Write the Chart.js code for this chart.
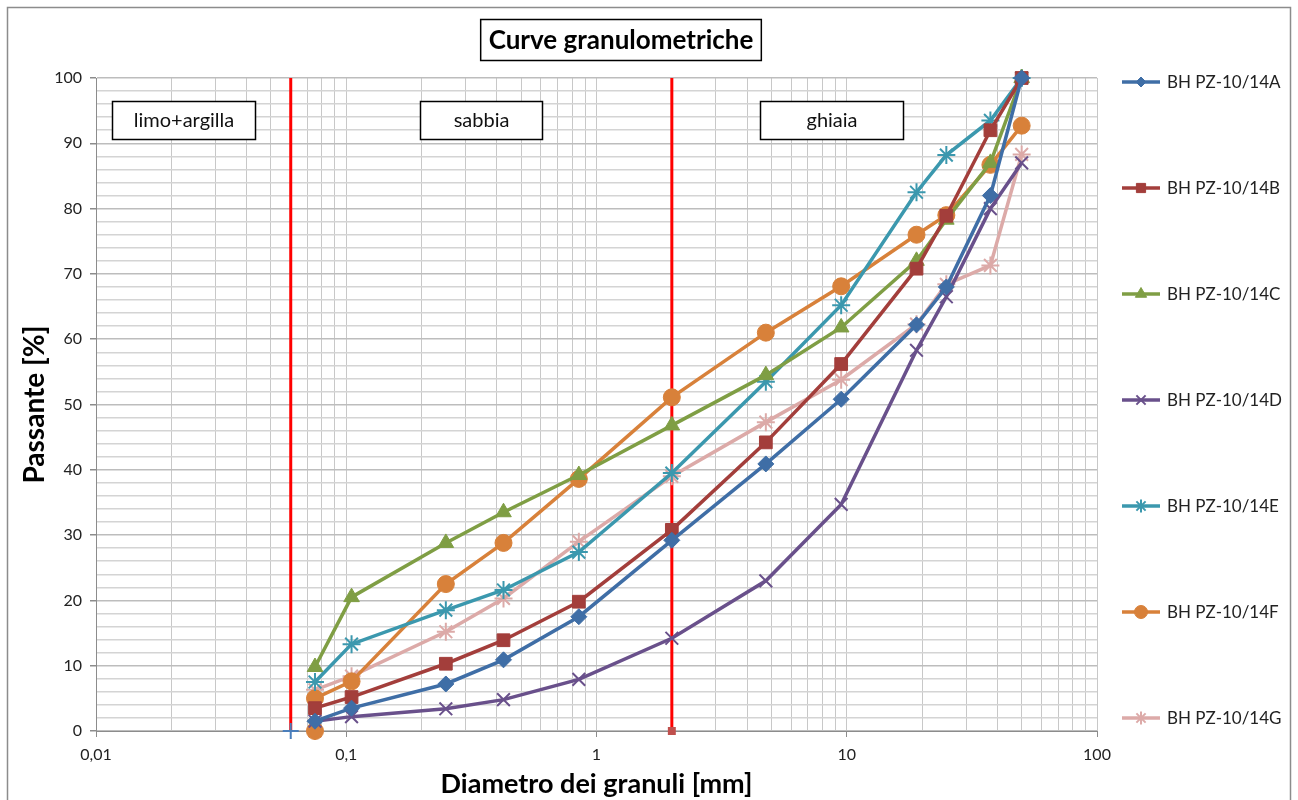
<!DOCTYPE html>
<html>
<head>
<meta charset="utf-8">
<script src="https://cdn.jsdelivr.net/npm/chart.js@4/dist/chart.umd.min.js"></script>
<style>
  html, body { margin: 0; padding: 0; background: #fff; }
  #wrap { width: 1298px; height: 800px; position: relative; }
</style>
</head>
<body>
<div id="wrap"><canvas id="grafico" width="1298" height="800"></canvas></div>
<script>
// aperture setacci [mm]
const setacci = [0.075, 0.105, 0.25, 0.425, 0.85, 2, 4.75, 9.5, 19, 25, 37.5, 50];

// passante [%] per ogni campione
const pz14A = [1.5, 3.5, 7.2, 10.9, 17.5, 29.2, 40.9, 50.8, 62.2, 68.0, 82.0, 100];
const pz14B = [3.5, 5.2, 10.3, 13.9, 19.8, 30.8, 44.2, 56.2, 70.8, 78.9, 92.0, 100];
const pz14C = [9.8, 20.5, 28.8, 33.5, 39.2, 46.8, 54.5, 61.8, 72.0, 78.3, 87.0, 100];
const pz14D = [1.5, 2.2, 3.4, 4.8, 7.9, 14.2, 23.0, 34.7, 58.3, 66.5, 80.0, 87.0];
const pz14E = [7.5, 13.3, 18.5, 21.6, 27.4, 39.5, 53.5, 65.2, 82.5, 88.2, 93.5, 100];
const pz14F = [5.0, 7.6, 22.5, 28.8, 38.6, 51.1, 61.0, 68.1, 76.0, 79.0, 86.7, 92.7];
const pz14G = [6.3, 8.4, 15.2, 20.3, 29.0, 39.0, 47.3, 53.8, 62.3, 68.4, 71.3, 88.3];

const nomi = ["BH PZ-10/14A", "BH PZ-10/14B", "BH PZ-10/14C", "BH PZ-10/14D",
              "BH PZ-10/14E", "BH PZ-10/14F", "BH PZ-10/14G"];

// limiti delle classi granulometriche [mm]
const limiteLimo = 0.06;
const limiteSabbia = 2;

// etichette delle classi [testo, d min, d max]
const classi = [
  ["limo+argilla", 0.0116, 0.0432],
  ["sabbia", 0.197, 0.606],
  ["ghiaia", 4.5, 16.8]
];

const FONT = 'Lato, "Open Sans", "Liberation Sans", sans-serif';

function punti(valori, fondo) {
  const p = setacci.map((d, i) => ({ x: d, y: valori[i] }));
  if (fondo) p.unshift({ x: setacci[0], y: 0 });
  return p;
}

function serie(label, valori, colore, stile, raggio, fondo) {
  return {
    label: label,
    data: punti(valori, fondo),
    borderColor: colore,
    backgroundColor: colore,
    pointBackgroundColor: colore,
    pointBorderColor: colore,
    pointBorderWidth: (stile === "star" || stile === "crossRot") ? 2 : 1,
    borderWidth: 3.5,
    pointStyle: stile,
    pointRadius: raggio,
    showLine: true,
    tension: 0,
    clip: false,
    inLegenda: true
  };
}

const datasets = [
  serie(nomi[0], pz14A, "#3f6ea6", "rectRot", 8),
  serie(nomi[1], pz14B, "#a33e3b", "rect", 9),
  serie(nomi[2], pz14C, "#7f9e44", "triangle", 9),
  serie(nomi[3], pz14D, "#69508b", "crossRot", 9),
  serie(nomi[4], pz14E, "#3b98ae", "star", 9),
  serie(nomi[5], pz14F, "#d8813a", "circle", 8.5, true),
  serie(nomi[6], pz14G, "#dcaaa8", "star", 9, true),
  {
    label: "limite limo",
    data: [{ x: limiteLimo, y: 0 }, { x: limiteLimo, y: 100 }],
    borderColor: "#ff0000",
    borderWidth: 3,
    showLine: true,
    clip: false,
    pointStyle: "cross",
    pointRadius: [8, 0],
    pointBorderColor: "#4a7ebb",
    pointBorderWidth: 2
  },
  {
    label: "limite sabbia",
    data: [{ x: limiteSabbia, y: 0 }, { x: limiteSabbia, y: 100 }],
    borderColor: "#ff0000",
    backgroundColor: "#c0504d",
    borderWidth: 3,
    showLine: true,
    clip: false,
    pointStyle: "rect",
    pointRadius: [3.5, 0],
    pointBorderColor: "#c0504d"
  }
];

// cornice, titolo, riquadri delle classi e legenda
const decorazioni = {
  id: "decorazioni",
  beforeDraw(chart) {
    const c = chart.ctx;
    c.save();
    c.fillStyle = "#fff";
    c.fillRect(0, 0, chart.width, chart.height);
    c.strokeStyle = "#8c8c8c";
    c.lineWidth = 1.5;
    c.strokeRect(7.5, 7.5, 1283, 800);
    c.restore();
  },
  beforeDatasetsDraw(chart) {
    const c = chart.ctx;
    const sx = chart.scales.x;
    c.save();
    c.font = "20px " + FONT;
    c.textAlign = "center";
    c.textBaseline = "middle";
    classi.forEach(([testo, d0, d1]) => {
      const x0 = Math.round(sx.getPixelForValue(d0)) + 0.5;
      const x1 = Math.round(sx.getPixelForValue(d1)) + 0.5;
      const y0 = 101.5, h = 38;
      c.fillStyle = "#fff";
      c.fillRect(x0, y0, x1 - x0, h);
      c.strokeStyle = "#000";
      c.lineWidth = 1.5;
      c.strokeRect(x0, y0, x1 - x0, h);
      c.fillStyle = "#111";
      c.fillText(testo, (x0 + x1) / 2, y0 + h / 2);
    });
    c.restore();
  },
  afterDraw(chart) {
    const c = chart.ctx;
    c.save();
    // titolo
    c.font = "bold 26px " + FONT;
    c.textAlign = "center";
    c.textBaseline = "middle";
    const t = "Curve granulometriche";
    const w = c.measureText(t).width + 16;
    c.fillStyle = "#fff";
    c.fillRect(621 - w / 2, 19.5, w, 41);
    c.strokeStyle = "#000";
    c.lineWidth = 1.5;
    c.strokeRect(621 - w / 2, 19.5, w, 41);
    c.fillStyle = "#000";
    c.fillText(t, 621, 41);

    // legenda
    c.font = "17px " + FONT;
    c.textAlign = "left";
    chart.data.datasets.filter(d => d.inLegenda).forEach((d, i) => {
      const y = 82 + i * 106;
      c.strokeStyle = d.borderColor;
      c.lineWidth = 3.5;
      c.beginPath();
      c.moveTo(1122, y);
      c.lineTo(1160, y);
      c.stroke();
      c.fillStyle = d.backgroundColor;
      c.strokeStyle = d.borderColor;
      c.lineWidth = d.pointBorderWidth;
      Chart.helpers.drawPoint(c, {
        pointStyle: d.pointStyle,
        radius: d.pointStyle === "rectRot" ? 5 : 6.5,
        rotation: 0,
        borderWidth: d.pointBorderWidth
      }, 1141, y);
      c.fillStyle = "#222";
      c.fillText(d.label, 1167, y + 1);
    });
    c.restore();
  }
};

new Chart(document.getElementById("grafico"), {
  type: "scatter",
  data: { datasets: datasets },
  options: {
    responsive: false,
    animation: false,
    layout: { padding: { top: 78, right: 201, left: 0, bottom: 0 } },
    plugins: {
      legend: { display: false },
      tooltip: { enabled: false }
    },
    scales: {
      x: {
        type: "logarithmic",
        min: 0.01,
        max: 100,
        afterBuildTicks(scale) {
          const tk = [];
          for (let e = -2; e <= 1; e++) {
            for (let m = 1; m <= 9; m++) tk.push({ value: +(m * Math.pow(10, e)).toPrecision(3) });
          }
          tk.push({ value: 100 });
          scale.ticks = tk;
        },
        afterFit(scale) { scale.height = 69; },
        ticks: {
          autoSkip: false,
          maxRotation: 0,
          color: "#222",
          font: { size: 16, family: FONT },
          padding: 8,
          callback(v) {
            const l = Math.log10(v);
            if (Math.abs(l - Math.round(l)) > 1e-9) return "";
            return String(v).replace(".", ",");
          }
        },
        grid: {
          color: "#c8c8c8",
          lineWidth: 1,
          tickLength: 6,
          tickColor(ctx) {
            const l = Math.log10(ctx.tick.value);
            return Math.abs(l - Math.round(l)) < 1e-9 ? "#8c8c8c" : "rgba(0,0,0,0)";
          }
        },
        border: { color: "#8c8c8c" },
        title: {
          display: true,
          text: "Diametro dei granuli [mm]",
          color: "#000",
          font: { size: 27, weight: "bold", family: FONT },
          padding: { top: 0, bottom: 0 }
        }
      },
      y: {
        min: 0,
        max: 100,
        afterFit(scale) { scale.width = 96; },
        ticks: {
          stepSize: 2,
          autoSkip: false,
          color: "#222",
          font: { size: 16, family: FONT },
          padding: 8,
          callback(v) { return v % 10 === 0 ? String(v) : ""; }
        },
        grid: {
          color(ctx) { return ctx.tick.value % 10 === 0 ? "#bdbdbd" : "#d4d4d4"; },
          lineWidth: 1.5,
          tickLength: 6,
          tickColor(ctx) { return ctx.tick.value % 10 === 0 ? "#8c8c8c" : "rgba(0,0,0,0)"; }
        },
        border: { color: "#8c8c8c" },
        title: {
          display: true,
          text: "Passante [%]",
          color: "#000",
          font: { size: 28, weight: "bold", family: FONT },
          padding: { top: 18, bottom: 0 }
        }
      }
    }
  },
  plugins: [decorazioni]
});
</script>
</body>
</html>
